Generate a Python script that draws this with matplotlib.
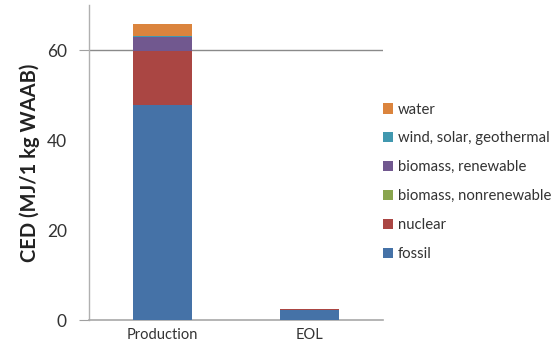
import matplotlib
matplotlib.use("Agg")
import matplotlib.pyplot as plt
from matplotlib.patches import Patch
import numpy as np

plt.rcParams['font.family'] = ['Lato', 'DejaVu Sans']

categories = ["Production", "EOL"]
series_names = ["fossil", "nuclear", "biomass, nonrenewable",
                "biomass, renewable", "wind, solar, geothermal", "water"]
fossil = [47.7, 2.2]
nuclear = [12.1, 0.2]
biomass_nonrenewable = [0.05, 0.0]
biomass_renewable = [3.0, 0.0]
wind_solar_geothermal = [0.2, 0.0]
water = [2.7, 0.0]
colors = ["#4572A7", "#AA4643", "#89A54E", "#71588F", "#4198AF", "#DB843D"]

series = [fossil, nuclear, biomass_nonrenewable, biomass_renewable,
          wind_solar_geothermal, water]

fig = plt.figure(figsize=(5.53, 3.5), dpi=100)
ax = fig.add_axes([0.161, 0.0857, 0.5316, 0.9])

x = np.arange(len(categories))
bottom = np.zeros(len(categories))
for vals, col in zip(series, colors):
    vals = np.array(vals)
    ax.bar(x, vals, 0.4, bottom=bottom, color=col, zorder=3)
    bottom += vals

ax.set_xlim(-0.5, 1.5)
ax.set_ylim(0, 70)

# gridline at 60 only, axis line at 0
ax.axhline(60, color="#8a8a8a", lw=1.0, zorder=1)
ax.set_yticks([0, 60])
ax.set_yticks([20, 40], minor=True)
ax.set_yticklabels(["0", "60"])
ax.set_yticklabels(["20", "40"], minor=True)
ax.tick_params(axis="y", which="major", length=7, color="#a0a0a0",
               labelsize=12.5, labelcolor="#333333", pad=9,
               direction="out")
ax.tick_params(axis="y", which="minor", length=0,
               labelsize=12.5, labelcolor="#333333", pad=16)
ax.set_xticks(x)
ax.set_xticklabels(categories)
ax.tick_params(axis="x", length=0, labelsize=10.5, labelcolor="#333333", pad=6)

for s in ["top", "right"]:
    ax.spines[s].set_visible(False)
ax.spines["left"].set_color("#b0b0b0")
ax.spines["bottom"].set_color("#a8a8a8")
ax.spines["left"].set_linewidth(1.0)
ax.spines["bottom"].set_linewidth(1.2)

ax.set_ylabel("CED (MJ/1 kg WAAB)", fontsize=14.5, fontweight="bold",
              color="#222222", labelpad=5)

handles = [Patch(facecolor=c, edgecolor="none") for c in colors]
leg = fig.legend(handles[::-1], series_names[::-1], loc="upper left",
                 bbox_to_anchor=(0.668, 0.745), frameon=False,
                 fontsize=10.7, handlelength=0.68, handleheight=0.68,
                 handletextpad=0.35, labelspacing=1.0, labelcolor="#333333")

fig.savefig("out.png", dpi=100)
